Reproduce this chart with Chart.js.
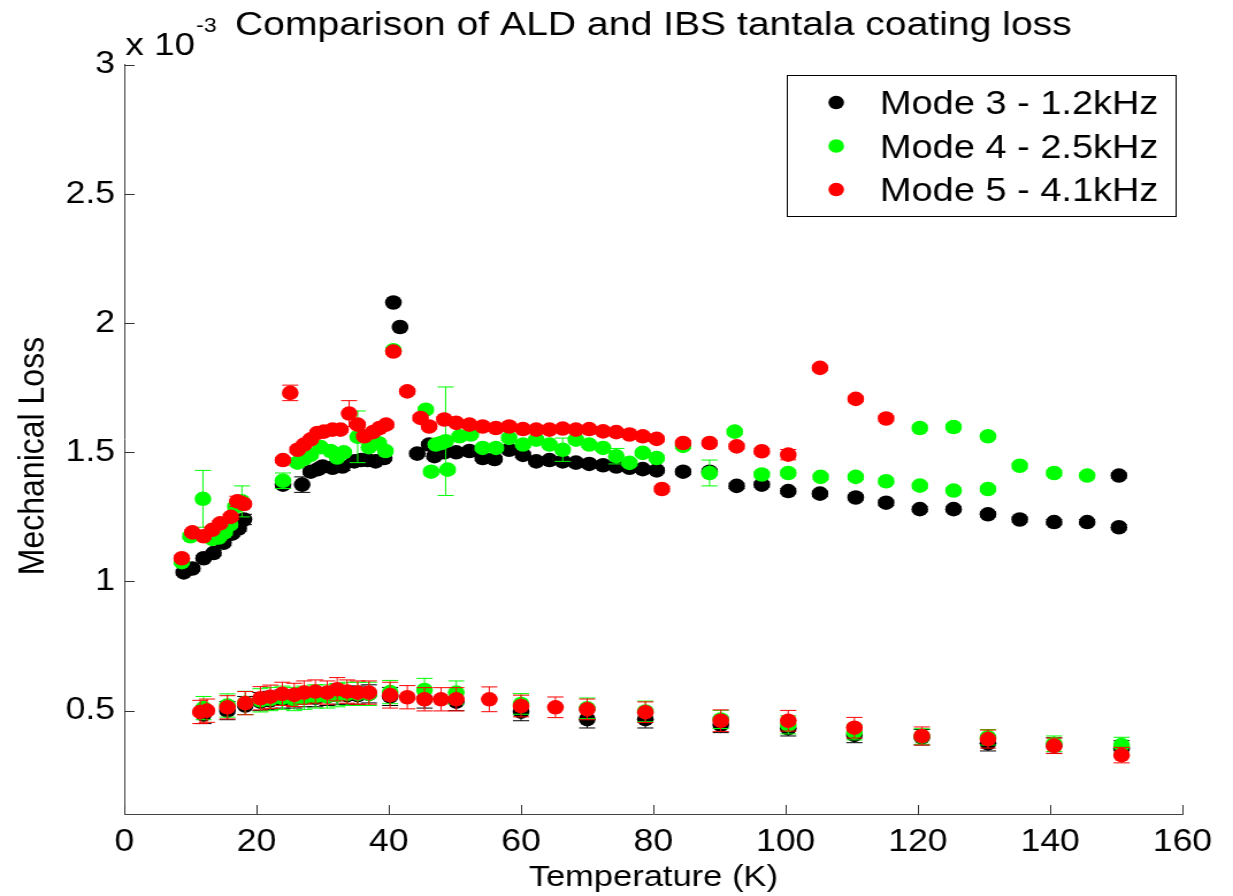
<!DOCTYPE html>
<html>
<head>
<meta charset="utf-8">
<script src="https://cdn.jsdelivr.net/npm/chart.js@4.4.1/dist/chart.umd.min.js"></script>
<style>
  html, body { margin: 0; padding: 0; background: #fff; overflow: hidden; }
  /* the reference picture is stretched sideways, so the canvas is too */
  #wrap { width: 1072px; height: 896px; transform: scale(1.1502, 1); transform-origin: 0 0; }
</style>
</head>
<body>
<div id="wrap"><canvas id="chart" width="1072" height="896"></canvas></div>
<script>
const xTicks = [0, 20, 40, 60, 80, 100, 120, 140, 160];
const yTicks = [0.5, 1, 1.5, 2, 2.5, 3]; // x 10^-3

const seriesNames = ['Mode 3 - 1.2kHz', 'Mode 4 - 2.5kHz', 'Mode 5 - 4.1kHz'];
const seriesColors = ['#000000', '#00ff00', '#ff0000'];

// upper group (loss in units of 1e-3)
const mode3HighT = [9.0, 10.3, 12.0, 13.5, 15.0, 16.3, 17.3, 18.1,
  24.0, 26.9, 28.2, 29.3, 30.0, 31.5, 33.0, 34.8, 35.8, 36.8, 38.0, 39.3,
  40.7, 41.7,
  44.3, 46.1, 46.9, 48.4, 50.2, 52.2, 54.2, 56.0, 58.2, 60.3,
  62.3, 64.3, 66.3, 68.3, 70.3, 72.4, 74.4, 76.4, 78.4, 80.5,
  84.5, 88.5, 92.6, 96.4, 100.4, 105.2, 110.6, 115.2,
  120.3, 125.4, 130.6, 135.4, 140.6, 145.6, 150.4, 150.4];
const mode3HighLoss = [1.035, 1.05, 1.09, 1.11, 1.15, 1.185, 1.205, 1.24,
  1.375, 1.375, 1.425, 1.435, 1.445, 1.44, 1.445, 1.465, 1.47, 1.47, 1.465, 1.478,
  2.08, 1.985,
  1.495, 1.53, 1.485, 1.5, 1.5, 1.505, 1.478, 1.474, 1.51, 1.49,
  1.465, 1.47, 1.465, 1.46, 1.455, 1.45, 1.445, 1.44, 1.435, 1.43,
  1.425, 1.425, 1.37, 1.375, 1.35, 1.34, 1.325, 1.305,
  1.28, 1.28, 1.26, 1.24, 1.23, 1.23, 1.21, 1.41];
const mode3HighErr = [0.01, 0.01, 0.01, 0.01, 0.01, 0.01, 0.01, 0.02,
  0.01, 0.03, 0.01, 0.01, 0.01, 0.01, 0.015, 0.01, 0.01, 0.01, 0.01, 0.01,
  0.005, 0.005,
  0.01, 0.01, 0.01, 0.01, 0.01, 0.01, 0.01, 0.01, 0.01, 0.01,
  0.01, 0.01, 0.01, 0.01, 0.01, 0.01, 0.01, 0.01, 0.01, 0.01,
  0.01, 0.01, 0.01, 0.01, 0.01, 0.01, 0.01, 0.01,
  0.01, 0.01, 0.01, 0.01, 0.01, 0.01, 0.01, 0.01];

const mode4HighT = [8.7, 10.0, 11.9, 13.3, 14.3, 15.2, 16.0, 16.8, 17.8,
  24.0, 26.2, 27.2, 28.2, 29.7, 31.2, 32.2, 33.2, 35.3, 37.0, 38.5, 39.5, 40.7,
  45.6, 46.4, 47.1, 47.9, 48.6, 48.9, 50.7, 52.4, 54.2, 56.2,
  58.2, 60.3, 62.3, 64.3, 66.3, 68.3, 70.3, 72.4, 74.4, 76.4,
  78.4, 80.5, 84.5, 88.5, 92.3, 96.4, 100.4, 105.3, 110.6, 115.2,
  120.3, 120.3, 125.4, 125.4, 130.6, 130.6, 135.4, 140.6, 145.6];
const mode4HighLoss = [1.075, 1.175, 1.32, 1.165, 1.17, 1.19, 1.22, 1.29, 1.31,
  1.39, 1.46, 1.475, 1.49, 1.52, 1.505, 1.48, 1.5, 1.56, 1.52, 1.535, 1.505, 1.895,
  1.665, 1.425, 1.53, 1.536, 1.543, 1.433, 1.562, 1.569, 1.517, 1.517,
  1.556, 1.53, 1.549, 1.53, 1.51, 1.549, 1.53, 1.517, 1.485, 1.459,
  1.498, 1.478, 1.525, 1.42, 1.58, 1.414, 1.42, 1.405, 1.405, 1.388,
  1.371, 1.594, 1.352, 1.598, 1.358, 1.562, 1.448, 1.42, 1.41];
const mode4HighErr = [0.01, 0.01, 0.11, 0.01, 0.01, 0.01, 0.01, 0.01, 0.06,
  0.03, 0.01, 0.01, 0.01, 0.01, 0.01, 0.01, 0.01, 0.1, 0.01, 0.01, 0.01, 0.01,
  0.01, 0.01, 0.01, 0.01, 0.21, 0.01, 0.01, 0.01, 0.01, 0.01,
  0.01, 0.01, 0.01, 0.01, 0.045, 0.01, 0.01, 0.01, 0.03, 0.01,
  0.01, 0.01, 0.01, 0.05, 0.01, 0.01, 0.01, 0.01, 0.01, 0.01,
  0.01, 0.01, 0.01, 0.01, 0.01, 0.01, 0.01, 0.01, 0.01];

const mode5HighT = [8.7, 10.3, 12.0, 13.3, 14.5, 16.1, 17.1, 18.1,
  24.0, 25.1, 26.2, 27.2, 28.2, 29.2, 30.2, 31.5, 32.7, 34.0, 35.3, 36.3, 37.6, 38.6, 39.6,
  40.7, 42.8, 44.8, 46.1, 48.4, 50.2, 52.2, 54.2, 56.2, 58.2,
  60.3, 62.3, 64.3, 66.3, 68.3, 70.3, 72.4, 74.4, 76.4, 78.4,
  80.5, 81.3, 84.5, 88.5, 92.6, 96.4, 100.4, 105.2, 110.6, 115.2];
const mode5HighLoss = [1.09, 1.19, 1.175, 1.2, 1.225, 1.25, 1.31, 1.3,
  1.47, 1.73, 1.51, 1.53, 1.55, 1.575, 1.58, 1.588, 1.588, 1.65, 1.607, 1.562, 1.578, 1.594, 1.607,
  1.89, 1.736, 1.633, 1.6, 1.627, 1.614, 1.607, 1.6, 1.594, 1.6,
  1.59, 1.588, 1.588, 1.592, 1.588, 1.59, 1.581, 1.578, 1.569, 1.562,
  1.552, 1.358, 1.536, 1.536, 1.523, 1.504, 1.491, 1.827, 1.707, 1.631];
const mode5HighErr = [0.01, 0.01, 0.01, 0.01, 0.01, 0.01, 0.02, 0.01,
  0.01, 0.03, 0.01, 0.01, 0.01, 0.01, 0.01, 0.01, 0.01, 0.05, 0.01, 0.01, 0.01, 0.01, 0.01,
  0.01, 0.01, 0.01, 0.01, 0.01, 0.01, 0.01, 0.01, 0.01, 0.01,
  0.01, 0.01, 0.01, 0.01, 0.01, 0.01, 0.01, 0.01, 0.01, 0.01,
  0.01, 0.01, 0.01, 0.01, 0.01, 0.01, 0.02, 0.01, 0.01, 0.01];

// lower group
const mode3LowT = [12.0, 15.6, 18.3, 20.6, 22.1, 23.9, 25.7, 27.2, 28.9, 30.7,
  32.2, 33.7, 35.3, 37.0, 40.2, 45.4, 50.2, 60.0, 70.0, 78.8,
  90.2, 100.4, 110.4, 120.6, 130.6, 140.6, 150.8];
const mode3LowLoss = [0.485, 0.5, 0.52, 0.535, 0.54, 0.545, 0.545, 0.55, 0.55, 0.555,
  0.56, 0.56, 0.56, 0.565, 0.555, 0.545, 0.535, 0.496, 0.467, 0.467,
  0.445, 0.432, 0.406, 0.397, 0.374, 0.365, 0.354];
const mode3LowErr = [0.035, 0.035, 0.035, 0.035, 0.035, 0.035, 0.035, 0.035, 0.035, 0.035,
  0.035, 0.035, 0.035, 0.035, 0.035, 0.035, 0.035, 0.035, 0.034, 0.034,
  0.03, 0.03, 0.03, 0.03, 0.03, 0.03, 0.03];

const mode4LowT = [12.0, 15.6, 18.3, 20.6, 22.1, 23.9, 25.7, 27.2, 28.9, 30.7,
  32.2, 33.7, 35.3, 37.0, 40.2, 45.4, 50.2, 60.0, 70.0, 78.8,
  90.2, 100.4, 110.4, 120.6, 130.6, 140.6, 150.8];
const mode4LowLoss = [0.51, 0.52, 0.53, 0.54, 0.545, 0.55, 0.545, 0.55, 0.555, 0.555,
  0.56, 0.565, 0.565, 0.565, 0.572, 0.58, 0.57, 0.526, 0.509, 0.497,
  0.466, 0.445, 0.417, 0.4, 0.397, 0.372, 0.367];
const mode4LowErr = [0.045, 0.045, 0.045, 0.045, 0.045, 0.045, 0.045, 0.045, 0.045, 0.045,
  0.045, 0.045, 0.045, 0.045, 0.045, 0.045, 0.045, 0.04, 0.04, 0.04,
  0.035, 0.035, 0.03, 0.03, 0.03, 0.03, 0.03];

const mode5LowT = [11.5, 12.5, 15.6, 18.3, 20.6, 22.1, 23.9, 25.7, 27.2, 28.9,
  30.7, 32.2, 33.7, 35.3, 37.0, 40.2, 42.8, 45.4, 47.9, 50.2,
  55.2, 60.0, 65.2, 70.0, 78.8, 90.2, 100.4, 110.4, 120.6, 130.6,
  140.6, 150.8];
const mode5LowLoss = [0.495, 0.5, 0.513, 0.529, 0.548, 0.554, 0.565, 0.561, 0.57, 0.574,
  0.57, 0.583, 0.574, 0.57, 0.57, 0.56, 0.552, 0.544, 0.544, 0.544,
  0.544, 0.518, 0.513, 0.505, 0.494, 0.461, 0.461, 0.434, 0.402, 0.39,
  0.364, 0.328];
const mode5LowErr = [0.045, 0.045, 0.045, 0.045, 0.045, 0.045, 0.045, 0.045, 0.045, 0.045,
  0.045, 0.045, 0.045, 0.045, 0.045, 0.05, 0.045, 0.045, 0.045, 0.045,
  0.048, 0.042, 0.04, 0.04, 0.04, 0.042, 0.04, 0.04, 0.035, 0.035,
  0.03, 0.03];

function points(ts, ls, es) {
  return ts.map((t, i) => ({ x: t, y: ls[i], err: es[i] }));
}

const seriesData = [
  points(mode3HighT, mode3HighLoss, mode3HighErr).concat(points(mode3LowT, mode3LowLoss, mode3LowErr)),
  points(mode4HighT, mode4HighLoss, mode4HighErr).concat(points(mode4LowT, mode4LowLoss, mode4LowErr)),
  points(mode5HighT, mode5HighLoss, mode5HighErr).concat(points(mode5LowT, mode5LowLoss, mode5LowErr))
];

const FONT = '"Liberation Sans", Arial, sans-serif';

// vertical error bars, drawn just under each series' own markers
const errorBars = {
  id: 'errorBars',
  beforeDatasetDraw(chart, args) {
    const ds = chart.data.datasets[args.index];
    const xs = chart.scales.x, ys = chart.scales.y;
    const ctx = chart.ctx;
    ctx.save();
    ctx.strokeStyle = ds.borderColor;
    ctx.lineWidth = 1;
    ctx.beginPath();
    ds.data.forEach(p => {
      if (!p.err) return;
      const px = xs.getPixelForValue(p.x);
      const top = ys.getPixelForValue(p.y + p.err);
      const bot = ys.getPixelForValue(p.y - p.err);
      ctx.moveTo(px, top); ctx.lineTo(px, bot);
      ctx.moveTo(px - 7, top); ctx.lineTo(px + 7, top);
      ctx.moveTo(px - 7, bot); ctx.lineTo(px + 7, bot);
    });
    ctx.stroke();
    ctx.restore();
  }
};

// matlab style ticks pointing into the plot, the x10^-3 note and the y label
const axisDecor = {
  id: 'axisDecor',
  beforeDatasetsDraw(chart) {
    const { ctx, chartArea: a, scales: { x, y } } = chart;
    ctx.save();
    ctx.strokeStyle = '#333';
    ctx.lineWidth = 1;
    ctx.beginPath();
    x.ticks.forEach(t => {
      const px = Math.round(x.getPixelForValue(t.value)) + 0.5;
      ctx.moveTo(px, a.bottom); ctx.lineTo(px, a.bottom - 9);
    });
    y.ticks.forEach(t => {
      const py = Math.round(y.getPixelForValue(t.value)) + 0.5;
      ctx.moveTo(a.left, py); ctx.lineTo(a.left + 9, py);
    });
    ctx.stroke();

    ctx.fillStyle = '#000';
    ctx.textBaseline = 'alphabetic';
    ctx.textAlign = 'left';
    ctx.font = '32px ' + FONT;
    ctx.fillText('x 10', a.left + 1, 55);
    const w = ctx.measureText('x 10').width;
    ctx.font = '20px ' + FONT;
    ctx.fillText('-3', a.left + 2 + w, 32);

    ctx.translate(29, 456);
    ctx.rotate(-Math.PI / 2);
    ctx.textAlign = 'center';
    ctx.textBaseline = 'middle';
    ctx.font = '32px ' + FONT;
    ctx.fillText('Mechanical Loss', 0, 0);
    ctx.restore();
  }
};

const boxLegend = {
  id: 'boxLegend',
  afterDraw(chart) {
    const ctx = chart.ctx;
    ctx.save();
    ctx.fillStyle = '#fff';
    ctx.fillRect(684, 75, 338, 142);
    ctx.strokeStyle = '#000';
    ctx.lineWidth = 1;
    ctx.strokeRect(684.5, 75.5, 338, 141);
    ctx.font = '33px ' + FONT;
    ctx.textBaseline = 'alphabetic';
    ctx.textAlign = 'left';
    chart.data.datasets.forEach((ds, i) => {
      const cy = 102.5 + i * 43.5;
      ctx.fillStyle = ds.backgroundColor;
      ctx.beginPath();
      ctx.arc(727, cy, 6.8, 0, Math.PI * 2);
      ctx.fill();
      ctx.fillStyle = '#000';
      ctx.fillText(ds.label, 765, cy + 11.5);
    });
    ctx.restore();
  }
};

new Chart(document.getElementById('chart').getContext('2d'), {
  type: 'scatter',
  data: {
    datasets: seriesNames.map((name, i) => ({
      label: name,
      data: seriesData[i],
      backgroundColor: seriesColors[i],
      borderColor: seriesColors[i],
      borderWidth: 0,
      pointRadius: 7.3,
      pointHoverRadius: 7.3,
      showLine: false,
      order: 3 - i
    }))
  },
  options: {
    responsive: false,
    animation: false,
    devicePixelRatio: 1,
    layout: { padding: { left: 0, right: 44, top: 0, bottom: 0 } },
    plugins: {
      legend: { display: false },
      tooltip: { enabled: false },
      title: {
        display: true,
        text: 'Comparison of ALD and IBS tantala coating loss',
        color: '#000',
        fullSize: false,
        font: { family: FONT, size: 34, weight: 'normal' },
        padding: { top: 5, bottom: 19 }
      }
    },
    scales: {
      x: {
        type: 'linear',
        min: 0,
        max: 160,
        afterBuildTicks: s => { s.ticks = xTicks.map(v => ({ value: v })); },
        afterFit: s => { s.height = 82; },
        ticks: { color: '#000', font: { family: FONT, size: 31 }, padding: 10, maxRotation: 0,
          callback: v => String(v) },
        grid: { display: false, drawTicks: false },
        border: { display: true, color: '#444', width: 1 },
        title: {
          display: true,
          text: 'Temperature (K)',
          color: '#000',
          font: { family: FONT, size: 30 },
          padding: 0
        }
      },
      y: {
        type: 'linear',
        min: 0.1,
        max: 3,
        afterBuildTicks: s => { s.ticks = yTicks.map(v => ({ value: v })); },
        afterFit: s => { s.width = 108; },
        ticks: { color: '#000', font: { family: FONT, size: 31 }, padding: 8,
          callback: v => String(v) },
        grid: { display: false, drawTicks: false },
        border: { display: true, color: '#444', width: 1 }
      }
    }
  },
  plugins: [errorBars, axisDecor, boxLegend]
});
</script>
</body>
</html>
